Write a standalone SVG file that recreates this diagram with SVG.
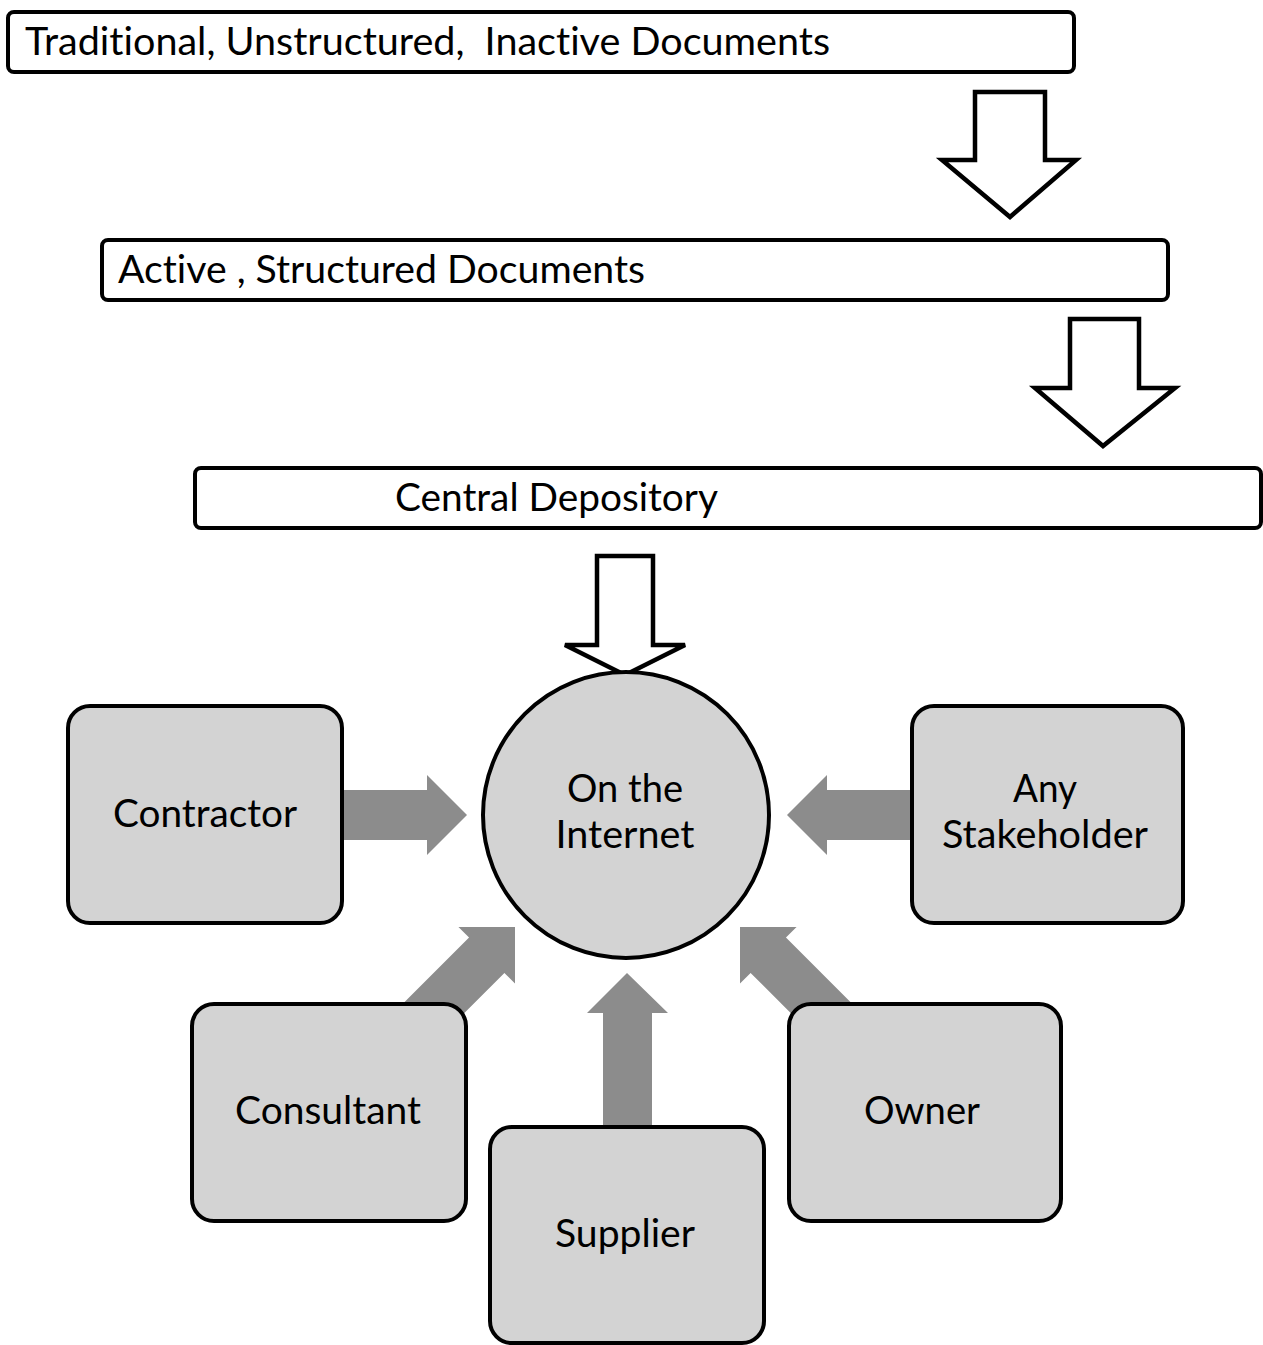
<svg xmlns="http://www.w3.org/2000/svg" width="1263" height="1345" viewBox="0 0 1263 1345">
  <style>
    .bar { fill: #ffffff; stroke: #000000; stroke-width: 4; }
    .down { fill: #ffffff; stroke: #000000; stroke-width: 4.5; stroke-linejoin: miter; }
    .node { fill: #d3d3d3; stroke: #000000; stroke-width: 4; }
    .flow { fill: #8c8c8c; stroke: none; }
    text { font-family: Lato, "Open Sans", "Liberation Sans", sans-serif; font-size: 39px; fill: #000000; font-variant-ligatures: none; font-feature-settings: "liga" 0, "clig" 0; }
    .mid { text-anchor: middle; }
    .pre { white-space: pre; }
  </style>
  <defs>
    <!-- block arrow pointing right, tip at origin -->
    <polygon id="flowArrow" points="-140,-25 -40,-25 -40,-40 0,0 -40,40 -40,25 -140,25"/>
  </defs>

  <!-- document stages -->
  <g id="stage-traditional">
    <rect class="bar" x="8" y="12" width="1066" height="60" rx="6"/>
    <text class="pre" xml:space="preserve" x="25" y="55" textLength="805" lengthAdjust="spacingAndGlyphs">Traditional, Unstructured,  Inactive Documents</text>
  </g>
  <g id="stage-active">
    <rect class="bar" x="102" y="240" width="1066" height="60" rx="6"/>
    <text x="118" y="283" textLength="527" lengthAdjust="spacingAndGlyphs">Active , Structured Documents</text>
  </g>
  <g id="stage-central">
    <rect class="bar" x="195" y="468" width="1066" height="60" rx="6"/>
    <text x="395" y="511" textLength="323" lengthAdjust="spacingAndGlyphs">Central Depository</text>
  </g>

  <!-- connectors -->
  <g id="connectors">
    <polygon class="down" points="975,92 1045,92 1045,160 1076,160 1010,217 942,160 975,160"/>
    <polygon class="down" points="1070,319 1139,319 1139,388 1175,388 1103,446 1035,388 1070,388"/>
    <polygon class="down" points="597,556 653,556 653,645 685,645 625,675 565,645 597,645"/>

    <polygon class="flow" points="342,790 427,790 427,775 467,815 427,855 427,840 342,840"/>
    <polygon class="flow" points="912,790 827,790 827,775 787,815 827,855 827,840 912,840"/>
    <polygon class="flow" points="603,1127 603,1013 587,1013 627,973 668,1013 652,1013 652,1127"/>
    <use href="#flowArrow" class="flow" transform="translate(515,927) rotate(-45)"/>
    <use href="#flowArrow" class="flow" transform="translate(740,927) rotate(-135)"/>
  </g>

  <!-- hub -->
  <g id="hub-internet">
    <circle class="node" cx="626" cy="815" r="143"/>
    <text class="mid" x="625" y="802" textLength="116" lengthAdjust="spacingAndGlyphs">On the</text>
    <text class="mid" x="625" y="848" textLength="139" lengthAdjust="spacingAndGlyphs">Internet</text>
  </g>

  <!-- stakeholders -->
  <g id="node-contractor">
    <rect class="node" x="68" y="706" width="274" height="217" rx="22"/>
    <text class="mid" x="205" y="827" textLength="184" lengthAdjust="spacingAndGlyphs">Contractor</text>
  </g>
  <g id="node-any-stakeholder">
    <rect class="node" x="912" y="706" width="271" height="217" rx="22"/>
    <text class="mid" x="1045" y="802" textLength="64" lengthAdjust="spacingAndGlyphs">Any</text>
    <text class="mid" x="1045" y="848" textLength="206" lengthAdjust="spacingAndGlyphs">Stakeholder</text>
  </g>
  <g id="node-consultant">
    <rect class="node" x="192" y="1004" width="274" height="217" rx="22"/>
    <text class="mid" x="328" y="1124" textLength="186" lengthAdjust="spacingAndGlyphs">Consultant</text>
  </g>
  <g id="node-supplier">
    <rect class="node" x="490" y="1127" width="274" height="216" rx="22"/>
    <text class="mid" x="625" y="1247" textLength="140" lengthAdjust="spacingAndGlyphs">Supplier</text>
  </g>
  <g id="node-owner">
    <rect class="node" x="789" y="1004" width="272" height="217" rx="22"/>
    <text class="mid" x="922" y="1124" textLength="116" lengthAdjust="spacingAndGlyphs">Owner</text>
  </g>
</svg>
